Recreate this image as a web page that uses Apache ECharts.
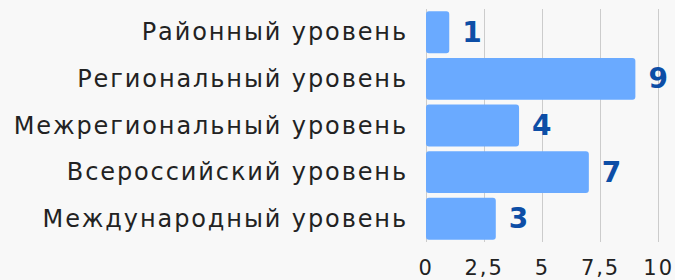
<!DOCTYPE html>
<html><head><meta charset="utf-8">
<script src="https://cdn.jsdelivr.net/npm/echarts@6/dist/echarts.min.js"></script>
<style>html,body{margin:0;padding:0;background:#f8f8f8}#c{width:675px;height:280px}
#c text{letter-spacing:1.9px}</style>
</head><body><div id="c"></div>
<script>
const categories = ["Районный уровень","Региональный уровень","Межрегиональный уровень","Всероссийский уровень","Международный уровень"];
const values = [1, 9, 4, 7, 3];
const xTicks = [0, 2.5, 5, 7.5, 10];
const FONT = "DejaVu Sans";
const chart = echarts.init(document.getElementById('c'), null, {renderer:'svg'});
chart.setOption({
  backgroundColor:'#f8f8f8',
  animation:false,
  grid:{left:426, right:13, top:9, bottom:38, containLabel:false},
  xAxis:{type:'value', min:xTicks[0], max:xTicks[xTicks.length-1], interval:2.5,
    axisLine:{show:false}, axisTick:{show:false},
    splitLine:{show:true, lineStyle:{color:'#cccccc', width:1}},
    axisLabel:{color:'#222', fontFamily:FONT, fontSize:21, margin:15,
      formatter: v => String(v).replace('.', ',')}},
  yAxis:{type:'category', data:categories, inverse:true,
    axisLine:{show:false}, axisTick:{show:false},
    axisLabel:{color:'#222', fontFamily:FONT, fontSize:24, margin:18}},
  series:[{type:'bar', data:values, barCategoryGap:'10%',
    itemStyle:{color:'#6aaaff', borderRadius:3},
    label:{show:true, position:'right', distance:13, color:'#0d4ea6', fontFamily:FONT, fontWeight:'bold', fontSize:28}}]
});
</script></body></html>
